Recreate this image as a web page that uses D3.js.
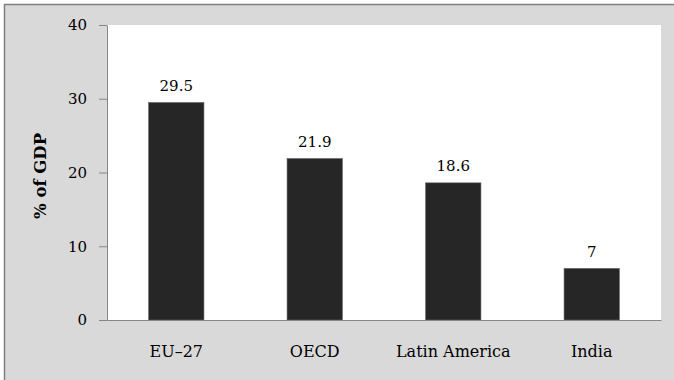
<!DOCTYPE html>
<html>
<head>
<meta charset="utf-8">
<script src="https://cdn.jsdelivr.net/npm/d3@7"></script>
<style>
  html, body { margin: 0; padding: 0; background: #ffffff; }
  svg { display: block; }
  text { font-family: "DejaVu Serif", "Liberation Serif", serif; fill: #000; }
</style>
</head>
<body>
<svg id="chart" width="674" height="380"></svg>
<script>
const categories = ["EU\u201327", "OECD", "Latin America", "India"];
const values = [29.5, 21.9, 18.6, 7];
const valueLabels = ["29.5", "21.9", "18.6", "7"];
const yTicks = [0, 10, 20, 30, 40];
const yTitle = "% of GDP";

const svg = d3.select("#chart");
const W = 674, H = 380;
const plot = { left: 107, top: 25, right: 661, bottom: 320 };

// outer chart area (border only visible on top/left)
svg.append("rect")
  .attr("x", 4.5).attr("y", 4.5)
  .attr("width", W + 20).attr("height", H + 20)
  .attr("fill", "#d9d9d9")
  .attr("stroke", "#7f7f7f").attr("stroke-width", 1.5);

// plot area
svg.append("rect")
  .attr("x", plot.left).attr("y", plot.top)
  .attr("width", plot.right - plot.left).attr("height", plot.bottom - plot.top)
  .attr("fill", "#ffffff");

const x = d3.scaleBand().domain(categories).range([plot.left, plot.right]).padding(0);
const y = d3.scaleLinear().domain([0, 40]).range([plot.bottom, plot.top]);
const barW = x.bandwidth() * 0.4;

// bars
svg.append("g").selectAll("rect")
  .data(categories.map((c, i) => ({ c, v: values[i], l: valueLabels[i] })))
  .join("rect")
  .attr("x", d => x(d.c) + x.bandwidth() / 2 - barW / 2)
  .attr("y", d => y(d.v))
  .attr("width", barW)
  .attr("height", d => y(0) - y(d.v))
  .attr("fill", "#262626")
  .attr("stroke", "#6a6a6a").attr("stroke-width", 0.6);

// value labels
svg.append("g").selectAll("text")
  .data(categories.map((c, i) => ({ c, v: values[i], l: valueLabels[i] })))
  .join("text")
  .attr("x", d => x(d.c) + x.bandwidth() / 2)
  .attr("y", d => y(d.v) - 11.5)
  .attr("text-anchor", "middle")
  .attr("font-size", 15)
  .text(d => d.l);

// y axis
const yAxis = svg.append("g")
  .attr("transform", `translate(${plot.left},0)`)
  .call(d3.axisLeft(y).tickValues(yTicks).tickSize(8).tickPadding(12).tickSizeOuter(0));
yAxis.select(".domain").attr("stroke", "#868686").attr("stroke-width", 1);
yAxis.selectAll(".tick line").attr("stroke", "#868686");
yAxis.selectAll(".tick text")
  .attr("font-family", "DejaVu Serif, Liberation Serif, serif")
  .attr("font-size", 15).attr("fill", "#000");

// x axis
const xAxis = svg.append("g")
  .attr("transform", `translate(0,${plot.bottom})`)
  .call(d3.axisBottom(x).tickSize(0).tickPadding(26).tickSizeOuter(0));
xAxis.select(".domain").attr("stroke", "#868686").attr("stroke-width", 1);
xAxis.selectAll(".tick text")
  .attr("font-family", "DejaVu Serif, Liberation Serif, serif")
  .attr("font-size", 16).attr("fill", "#000");

// y title
svg.append("text")
  .attr("transform", `translate(46,176) rotate(-90)`)
  .attr("text-anchor", "middle")
  .attr("font-size", 16.5)
  .attr("font-weight", "bold")
  .text(yTitle);
</script>
</body>
</html>
